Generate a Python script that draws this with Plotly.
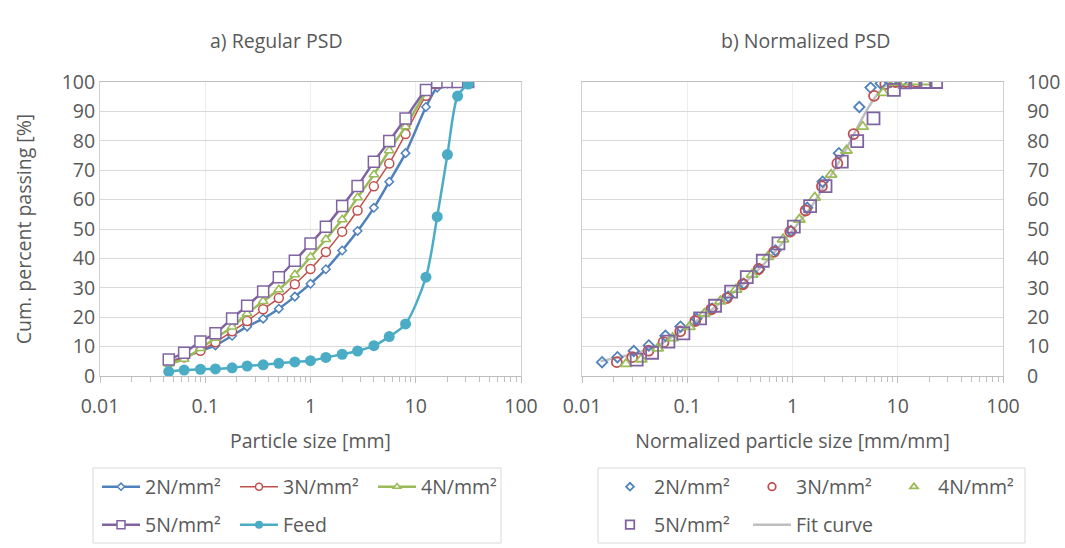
import plotly.graph_objects as go

# ---------------- data ----------------
sizes = [0.045, 0.063, 0.09, 0.125, 0.18, 0.25, 0.355, 0.5, 0.71, 1, 1.4, 2, 2.8,
         4, 5.6, 8, 12.5, 16, 20, 25, 31.5]
p2N = [4.7, 6.4, 8.5, 10.4, 13.7, 16.8, 19.5, 22.9, 27.0, 31.4, 36.3, 42.7, 49.3,
       57.2, 66.1, 75.8, 91.5, 98.1, 99.5, 100, 100]
p3N = [4.7, 6.4, 8.6, 11.5, 15.2, 18.7, 22.7, 26.5, 31.2, 36.4, 42.2, 49.1, 56.3,
       64.5, 72.3, 82.3, 95.3, 99.3, 100, 100, 100]
p4N = [4.1, 5.7, 9.4, 12.9, 16.7, 21.2, 25.4, 29.4, 34.5, 40.5, 46.5, 53.2, 60.7,
       68.5, 76.7, 84.8, 96.3, 99.8, 100, 100, 100]
p5N = [5.6, 7.9, 11.7, 14.5, 19.6, 23.9, 28.7, 33.6, 39.2, 45.1, 50.8, 57.8, 64.6,
       72.9, 79.9, 87.6, 97.3, 99.9, 100, 100, 100]
feed = [1.5, 2.0, 2.3, 2.4, 2.8, 3.4, 3.8, 4.3, 4.8, 5.2, 6.3, 7.4, 8.5,
        10.3, 13.4, 17.7, 33.6, 54.2, 75.3, 95.2, 99.3]

# median sizes (d50) used for normalisation
d50 = {"2N/mm²": 2.9, "3N/mm²": 2.1, "4N/mm²": 1.72, "5N/mm²": 1.36}

fit_x = [0.015, 0.02, 0.03, 0.05, 0.07, 0.1, 0.15, 0.2, 0.3, 0.5, 0.7, 1, 1.5, 2,
         3, 4, 5, 6, 7, 8, 9]
fit_y = [5.0, 6.0, 7.4, 10.0, 13.0, 16.6, 21.0, 24.5, 29.5, 37.0, 42.8, 49.5, 57.5,
         64.5, 75.0, 83.5, 90.0, 94.5, 97.5, 99.3, 100]

x_ticks = [0.01, 0.1, 1, 10, 100]
x_tick_text = ["0.01", "0.1", "1", "10", "100"]

# ---------------- style ----------------
FONT = "Open Sans"
FS = 19.5
TXT = "#595959"
C_BLUE, C_RED, C_GREEN, C_PURPLE, C_FEED, C_FIT = (
    "#4F81BD", "#C0504D", "#9BBB59", "#8064A2", "#4BACC6", "#BFBFBF")

W, H = 1065, 548

# name, values, colour, symbol, left size, line width, right size, legend size
series = [
    ("2N/mm²", p2N, C_BLUE, "diamond", 6.5, 2.5, 8, 5.5),
    ("3N/mm²", p3N, C_RED, "circle", 9, 1.5, 10, 7),
    ("4N/mm²", p4N, C_GREEN, "triangle-up", 8.5, 2.5, 10, 6.5),
    ("5N/mm²", p5N, C_PURPLE, "square", 11, 2.5, 12, 8),
]

fig = go.Figure()

# left panel
for i, (name, vals, col, sym, ms, lw, ms2, msl) in enumerate(series):
    fig.add_trace(go.Scatter(
        x=sizes, y=vals, name=name, mode="lines+markers", showlegend=False,
        line=dict(color=col, width=lw, shape="spline", smoothing=0.8),
        marker=dict(symbol=sym, size=ms, color="white", line=dict(color=col, width=1.5)),
        xaxis="x", yaxis="y"))
fig.add_trace(go.Scatter(
    x=sizes, y=feed, name="Feed", mode="lines+markers", showlegend=False,
    line=dict(color=C_FEED, width=2.5, shape="spline", smoothing=0.8),
    marker=dict(symbol="circle", size=11, color=C_FEED),
    xaxis="x", yaxis="y"))

# right panel
fig.add_trace(go.Scatter(
    x=fit_x, y=fit_y, name="Fit curve", mode="lines", showlegend=False,
    line=dict(color=C_FIT, width=2.5, shape="spline"),
    xaxis="x2", yaxis="y2"))
for i, (name, vals, col, sym, ms, lw, ms2, msl) in enumerate(series):
    fig.add_trace(go.Scatter(
        x=[s / d50[name] for s in sizes], y=vals, name=name, mode="markers",
        showlegend=False,
        marker=dict(symbol=sym + "-open", size=ms2, color=col, line=dict(color=col, width=1.8)),
        xaxis="x2", yaxis="y2"))

# legend entries (smaller symbols, as in the original legends)
for i, (name, vals, col, sym, ms, lw, ms2, msl) in enumerate(series):
    fig.add_trace(go.Scatter(
        x=[None], y=[None], name=name, mode="lines+markers",
        line=dict(color=col, width=lw),
        marker=dict(symbol=sym, size=msl, color="white", line=dict(color=col, width=1.5)),
        xaxis="x", yaxis="y", legend="legend" if i < 3 else "legend2"))
fig.add_trace(go.Scatter(
    x=[None], y=[None], name="Feed", mode="lines+markers",
    line=dict(color=C_FEED, width=2.5), marker=dict(symbol="circle", size=8, color=C_FEED),
    xaxis="x", yaxis="y", legend="legend2"))
for i, (name, vals, col, sym, ms, lw, ms2, msl) in enumerate(series):
    fig.add_trace(go.Scatter(
        x=[None], y=[None], name=name, mode="markers",
        marker=dict(symbol=sym + "-open", size=msl + 0.5, color=col, line=dict(color=col, width=1.8)),
        xaxis="x2", yaxis="y2", legend="legend3" if i < 3 else "legend4"))
fig.add_trace(go.Scatter(
    x=[None], y=[None], name="Fit curve", mode="lines",
    line=dict(color=C_FIT, width=2.5), xaxis="x2", yaxis="y2", legend="legend4"))

minor_vals = [m * 10 ** e for e in range(-2, 2) for m in range(2, 10)]

def xaxis(dom, title):
    return dict(
        domain=dom, type="log", range=[-2, 2], tickmode="array",
        tickvals=x_ticks, ticktext=x_tick_text,
        showgrid=True, gridcolor="#EDEDED", gridwidth=1,
        showline=True, linecolor="#BFBFBF", linewidth=1, mirror=True,
        ticks="outside", ticklen=6, tickcolor="#BFBFBF",
        minor=dict(tickmode="array", tickvals=minor_vals, ticks="outside",
                   ticklen=5, tickcolor="#BFBFBF", showgrid=False),
        ticklabelstandoff=7,
        tickfont=dict(family=FONT, size=FS, color=TXT),
        title=dict(text=title, font=dict(family=FONT, size=FS, color=TXT), standoff=15),
        automargin=False, zeroline=False)

def yaxis(anchor, side, title, standoff):
    d = dict(
        domain=[(H - 376) / H, (H - 82) / H], range=[0, 100], dtick=10,
        anchor=anchor, side=side,
        showgrid=True, gridcolor="#D9D9D9", gridwidth=1,
        showline=True, linecolor="#D0D0D0", linewidth=1, mirror=True,
        ticks="", tickfont=dict(family=FONT, size=FS, color=TXT),
        ticklabelstandoff=standoff,
        automargin=False, zeroline=False)
    if title:
        d["title"] = dict(text=title, font=dict(family=FONT, size=FS, color=TXT), standoff=24)
    return d

def legend(x, y, ew):
    return dict(orientation="h", x=x / W, xanchor="left", y=(H - y) / H, yanchor="middle",
                entrywidth=ew, entrywidthmode="pixels", bgcolor="rgba(0,0,0,0)",
                borderwidth=0, font=dict(family=FONT, size=FS, color=TXT),
                traceorder="normal", itemwidth=38)

fig.update_layout(
    width=W, height=H, autosize=False,
    margin=dict(l=0, r=0, t=0, b=0),
    paper_bgcolor="white", plot_bgcolor="white",
    font=dict(family=FONT, size=FS, color=TXT),
    showlegend=True,
    xaxis=xaxis([100 / W, 521 / W], "Particle size [mm]"),
    xaxis2=xaxis([582 / W, 1003 / W], "Normalized particle size [mm/mm]"),
    yaxis=yaxis("x", "left", "Cum. percent passing [%]", 0),
    yaxis2=yaxis("x2", "right", None, 19),
    legend=legend(97, 487, 85), legend2=legend(97, 525, 85),
    legend3=legend(606, 487, 89), legend4=legend(606, 525, 89),
    annotations=[
        dict(text="a) Regular PSD", x=276 / W, y=(H - 41) / H, xref="paper", yref="paper",
             xanchor="center", yanchor="middle", showarrow=False,
             font=dict(family=FONT, size=FS, color=TXT)),
        dict(text="b) Normalized PSD", x=806 / W, y=(H - 41) / H, xref="paper", yref="paper",
             xanchor="center", yanchor="middle", showarrow=False,
             font=dict(family=FONT, size=FS, color=TXT)),
    ],
    shapes=[
        dict(type="rect", xref="paper", yref="paper", x0=93 / W, x1=501 / W,
             y0=(H - 543) / H, y1=(H - 468) / H, line=dict(color="#D9D9D9", width=1)),
        dict(type="rect", xref="paper", yref="paper", x0=598 / W, x1=1025 / W,
             y0=(H - 543) / H, y1=(H - 468) / H, line=dict(color="#D9D9D9", width=1)),
    ],
)

fig.write_html("out.html")
